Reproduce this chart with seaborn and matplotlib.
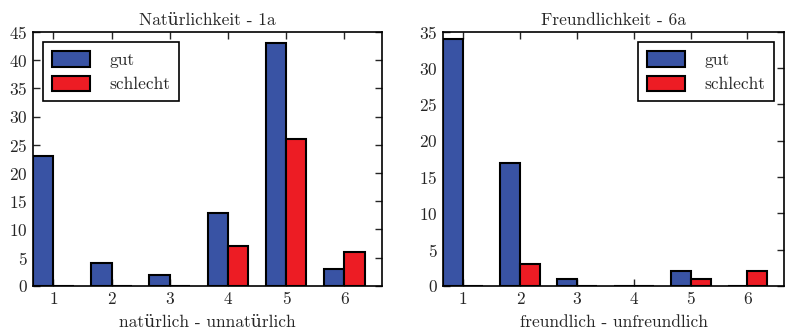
import numpy as np
import pandas as pd
import matplotlib
matplotlib.use("Agg")
import matplotlib.pyplot as plt
import seaborn as sns

categories = ["1", "2", "3", "4", "5", "6"]
groups = ["gut", "schlecht"]

nat_gut = [23, 4, 2, 13, 43, 3]
nat_schlecht = [0, 0, 0, 7, 26, 6]
freund_gut = [34, 17, 1, 0, 2, 0]
freund_schlecht = [0, 3, 0, 0, 1, 2]

colors = ["#3953a4", "#ed1c24"]

sns.set_style("ticks", {"xtick.direction": "in", "ytick.direction": "in",
                        "axes.edgecolor": "black"})
plt.rcParams["font.family"] = ["cmr10", "DejaVu Serif"]
plt.rcParams["axes.formatter.use_mathtext"] = True
plt.rcParams["xtick.top"] = True
plt.rcParams["ytick.right"] = True

FS = 12.5


def long_frame(gut, schlecht):
    return pd.DataFrame({
        "kat": categories * 2,
        "gruppe": ["gut"] * 6 + ["schlecht"] * 6,
        "n": list(gut) + list(schlecht),
    })


def panel(ax, gut, schlecht, title, xlabel, ymax, loc):
    df = long_frame(gut, schlecht)
    sns.barplot(data=df, x="kat", y="n", hue="gruppe", order=categories,
                hue_order=groups, palette=colors, width=0.7, saturation=1,
                edgecolor="black", linewidth=1.5, ax=ax)
    ax.set_xlim(-0.35, 5.65)
    ax.set_ylim(0, ymax)
    ax.set_yticks(np.arange(0, ymax + 1, 5))
    ax.set_title(title, fontsize=FS, pad=5)
    ax.set_xlabel(xlabel, fontsize=FS, labelpad=6)
    ax.set_ylabel("")
    ax.tick_params(labelsize=FS, length=5, width=1, pad=4)
    for s in ax.spines.values():
        s.set_linewidth(1.2)
        s.set_visible(True)
    leg = ax.legend(loc=loc, fontsize=FS, frameon=True, fancybox=False,
                    handlelength=2.2, handleheight=1.0, borderpad=0.5,
                    labelspacing=0.45, handletextpad=1.1,
                    borderaxespad=0.6)
    leg.get_frame().set_edgecolor("black")
    leg.get_frame().set_linewidth(1.2)
    leg.get_frame().set_alpha(1)
    leg.set_title(None)


fig = plt.figure(figsize=(7.86, 3.36), dpi=100)
ax1 = fig.add_axes([0.042, 0.149, 0.444, 0.756])
ax2 = fig.add_axes([0.564, 0.149, 0.434, 0.756])

panel(ax1, nat_gut, nat_schlecht, "Natürlichkeit - 1a",
      "natürlich - unnatürlich", 45, "upper left")
panel(ax2, freund_gut, freund_schlecht, "Freundlichkeit - 6a",
      "freundlich - unfreundlich", 35, "upper right")

fig.savefig("out.png", dpi=100)
